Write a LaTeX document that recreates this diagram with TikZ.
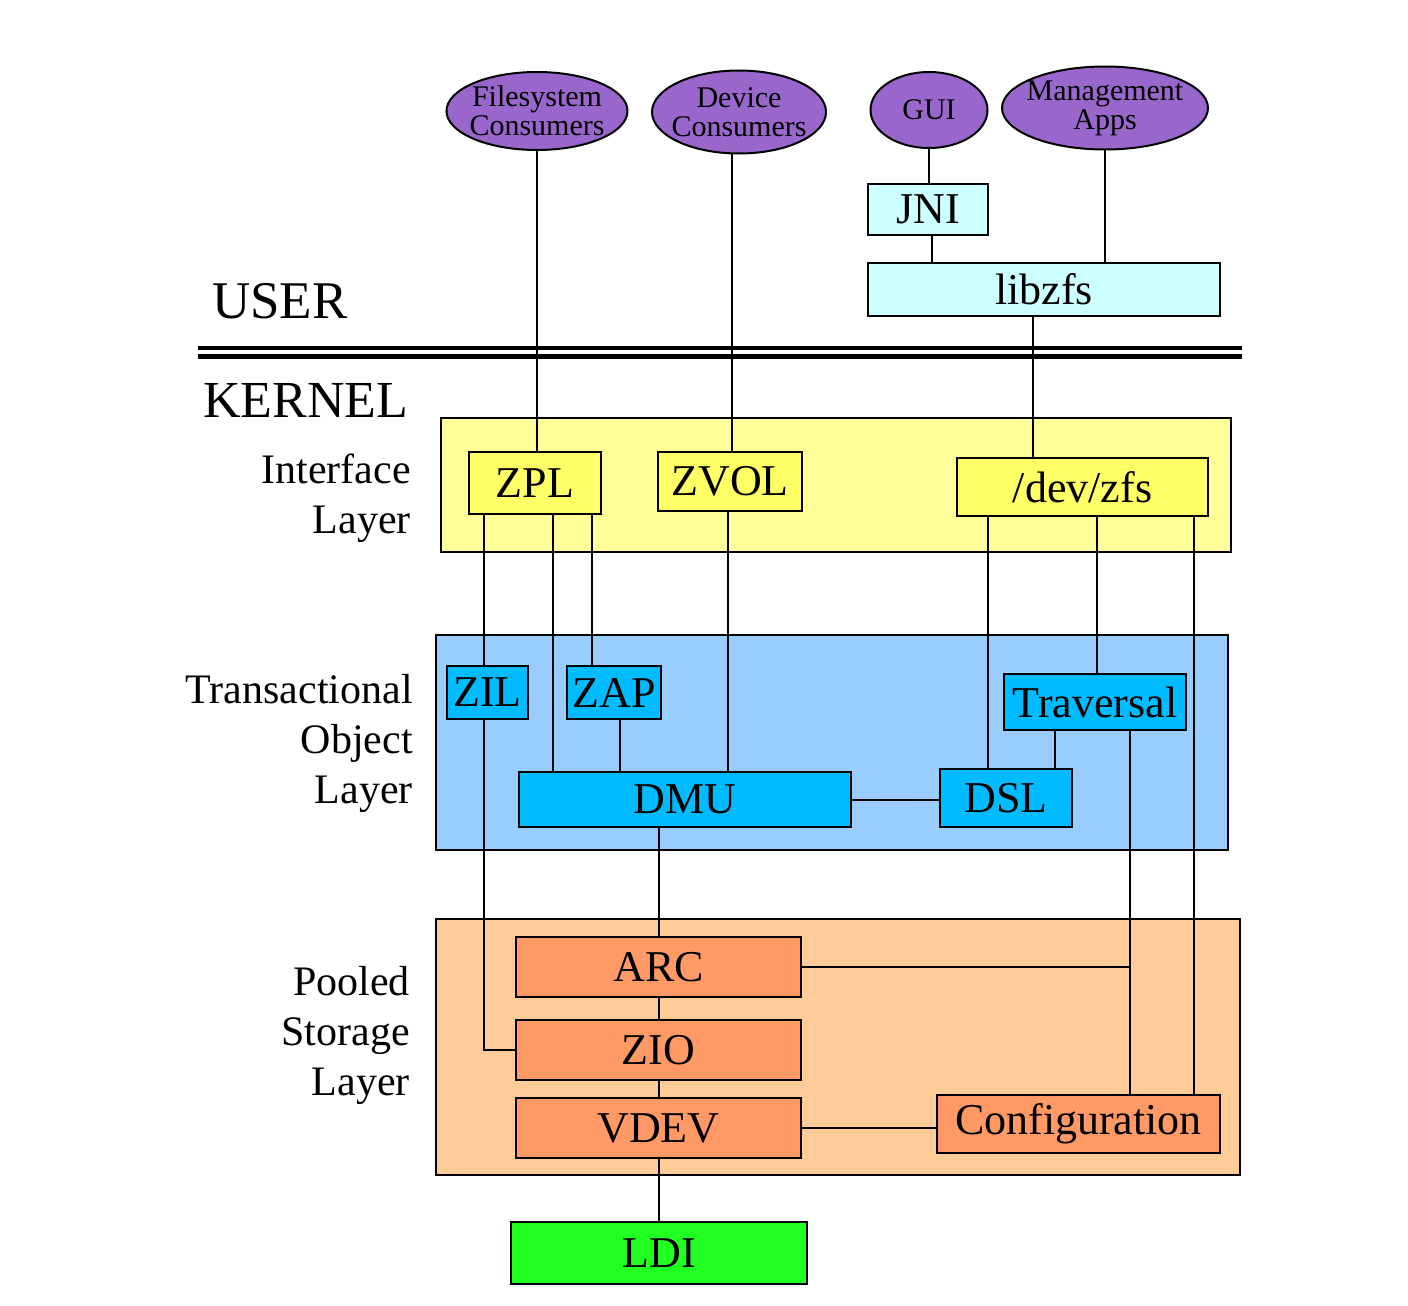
\documentclass[tikz,border=0pt]{standalone}
\usepackage{fontspec}
\setmainfont{Liberation Serif}
\usetikzlibrary{shapes.geometric}
\definecolor{purp}{HTML}{9966CC}
\definecolor{cyanlt}{HTML}{CCFFFF}
\definecolor{ylayer}{HTML}{FFFF99}
\definecolor{ybox}{HTML}{FFFF66}
\definecolor{blayer}{HTML}{99CCFF}
\definecolor{bbox}{HTML}{00BBFF}
\definecolor{olayer}{HTML}{FFCC99}
\definecolor{obox}{HTML}{FF9966}
\definecolor{gbox}{HTML}{22FF22}
\begin{document}
\begin{tikzpicture}[x=1pt,y=-1pt,
  box/.style={draw=black, line width=2pt, inner sep=0pt, outer sep=0pt, font=\fontsize{44}{44}\selectfont},
  layer/.style={draw=black, line width=2pt, inner sep=0pt, outer sep=0pt},
  ell/.style={ellipse, draw=black, line width=2pt, fill=purp, inner ysep=0pt, outer sep=0pt, align=center, font=\fontsize{30}{29}\selectfont},
  link/.style={line width=2pt},
  lbl/.style={align=right, anchor=east, inner sep=0pt, font=\fontsize{42}{50}\selectfont},
  big/.style={anchor=base west, inner sep=0pt, font=\fontsize{53}{53}\selectfont}]
\useasboundingbox (0,0) rectangle (1408,1306);
\fill[white] (0,0) rectangle (1408,1306);

% column coordinates
\coordinate (x484) at (484,0);
\coordinate (x553) at (553,0);
\coordinate (x592) at (592,0);
\coordinate (x620) at (620,0);
\coordinate (x659) at (659,0);
\coordinate (x728) at (728,0);
\coordinate (x732) at (732,0);
\coordinate (x988) at (988,0);
\coordinate (x1033) at (1033,0);
\coordinate (x1055) at (1055,0);
\coordinate (x1097) at (1097,0);
\coordinate (x1130) at (1130,0);
\coordinate (x1194) at (1194,0);

% layers
\node[layer, fill=ylayer, minimum width=790, minimum height=134] (iface) at (836,485) {};
\node[layer, fill=blayer, minimum width=792, minimum height=215] (objl) at (832,742.5) {};
\node[layer, fill=olayer, minimum width=804, minimum height=256] (pooll) at (838,1047) {};

% user / kernel
\node[big] (user) at (212,318) {USER};
\node[big, font=\fontsize{52}{52}\selectfont] (kernel) at (203,417) {KERNEL};
\draw[line width=4.5pt] (198,348) -- (1242,348);
\draw[line width=4.5pt] (198,356.5) -- (1242,356.5);

% layer labels
\node[lbl] (lif) at (411,498) {Interface\\Layer};
\node[lbl] (lobj) at (413,743) {Transactional\\Object\\Layer};
\node[lbl] (lpool) at (410,1035) {Pooled\\Storage\\Layer};

% ellipses
\node[ell, inner xsep=-3.5pt, minimum width=181, minimum height=78] (fsc) at (537,111) {Filesystem\\Consumers};
\node[ell, inner xsep=-6.5pt, minimum width=174, minimum height=83] (devc) at (739,112) {Device\\Consumers};
\node[ell, inner xsep=0pt, minimum width=117, minimum height=76] (gui) at (929,110) {GUI};
\node[ell, inner xsep=-6pt, minimum width=206, minimum height=83] (mgmt) at (1105,108) {Management\\Apps};

% connectors
\draw[link] (fsc.south) -- (fsc.south |- 0,452) coordinate (fscend);
\draw[link] (devc.south -| x732) -- (x732 |- 0,452) coordinate (devend);
\draw[link] (gui.south) -- (gui.south |- 0,184);
\draw[link] (932,235) -- (932,263);
\draw[link] (mgmt.south) -- (mgmt.south |- 0,263);
\draw[link] (1033,316) -- (1033,458);

% user boxes
\node[box, fill=cyanlt, minimum width=120, minimum height=51] (jni) at (928,209.5) {JNI};
\node[box, fill=cyanlt, minimum width=352, minimum height=53] (libzfs) at (1044,289.5) {libzfs};

% interface boxes
\node[box, fill=ybox, minimum width=132, minimum height=62] (zpl) at (535,483) {ZPL};
\node[box, fill=ybox, minimum width=144, minimum height=59] (zvol) at (730,481.5) {ZVOL};
\node[box, fill=ybox, minimum width=251, minimum height=58] (devzfs) at (1082.5,487) {/dev/zfs};

% object layer boxes
\node[box, fill=bbox, minimum width=81, minimum height=53] (zil) at (487.5,692.5) {ZIL};
\node[box, fill=bbox, minimum width=94, minimum height=53] (zap) at (614,692.5) {ZAP};
\node[box, fill=bbox, minimum width=182, minimum height=56] (trav) at (1095,702) {Traversal};
\node[box, fill=bbox, minimum width=332, minimum height=55] (dmu) at (685,799.5) {DMU};
\node[box, fill=bbox, minimum width=132, minimum height=58] (dsl) at (1006,798) {DSL};

% storage boxes
\node[box, fill=obox, minimum width=285, minimum height=60] (arc) at (658.5,967) {ARC};
\node[box, fill=obox, minimum width=285, minimum height=60] (zio) at (658.5,1050) {ZIO};
\node[box, fill=obox, minimum width=285, minimum height=60] (vdev) at (658.5,1128) {VDEV};
\node[box, fill=obox, minimum width=283, minimum height=58] (config) at (1078.5,1124) {Configuration};
\node[box, fill=gbox, minimum width=296, minimum height=62] (ldi) at (659,1253) {LDI};

% links between boxes
\draw[link] (zpl.south -| x484) -- (zil.north -| x484);
\draw[link] (zil.south -| x484) |- (zio.west);
\draw[link] (zpl.south -| x553) -- (dmu.north -| x553);
\draw[link] (zpl.south -| x592) -- (zap.north -| x592);
\draw[link] (zap.south -| x620) -- (dmu.north -| x620);
\draw[link] (zvol.south -| x728) -- (dmu.north -| x728);
\draw[link] (dmu.east) -- (dmu.east -| dsl.west);
\draw[link] (devzfs.south -| x988) -- (dsl.north -| x988);
\draw[link] (devzfs.south -| x1097) -- (trav.north -| x1097);
\draw[link] (devzfs.south -| x1194) -- (config.north -| x1194);
\draw[link] (trav.south -| x1055) -- (dsl.north -| x1055);
\draw[link] (trav.south -| x1130) -- (config.north -| x1130);
\draw[link] (arc.east) -- (arc.east -| x1130);
\draw[link] (dmu.south -| x659) -- (arc.north -| x659);
\draw[link] (arc.south -| x659) -- (zio.north -| x659);
\draw[link] (zio.south -| x659) -- (vdev.north -| x659);
\draw[link] (vdev.east) -- (vdev.east -| config.west);
\draw[link] (vdev.south -| x659) -- (ldi.north -| x659);
\end{tikzpicture}
\end{document}
